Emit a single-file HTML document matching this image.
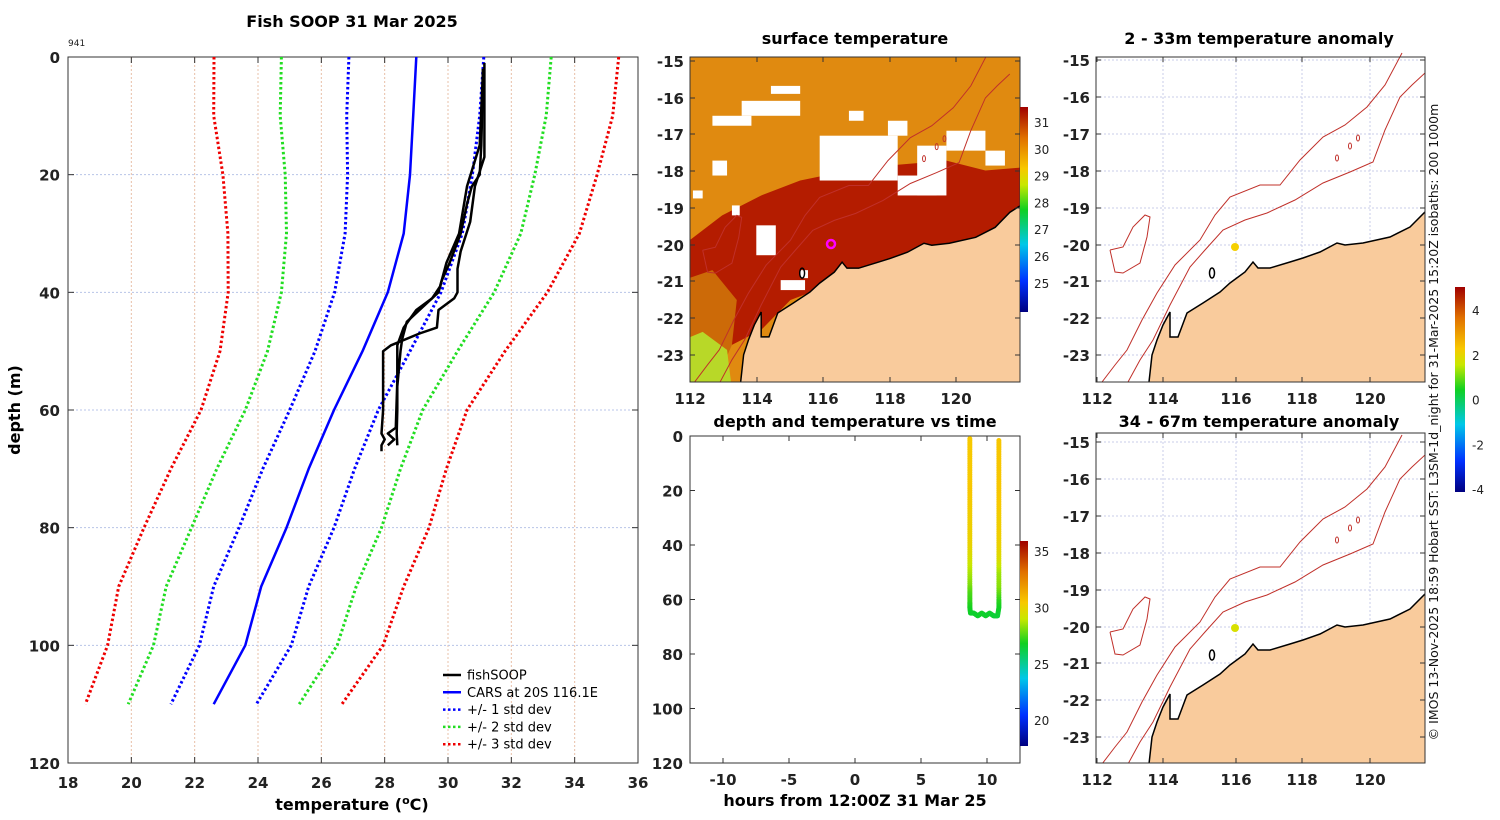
<!DOCTYPE html>
<html><head><meta charset="utf-8"><style>
body{margin:0;background:#fff}
svg{display:block;font-family:"DejaVu Sans","Liberation Sans",sans-serif}
.t{font-size:15px;font-weight:bold;fill:#222}
.ti{font-size:16px;font-weight:bold;fill:#000}
.lg{font-size:13px;fill:#000}
</style></head><body>
<svg id="fig" width="1500" height="820" viewBox="0 0 1500 820" xmlns="http://www.w3.org/2000/svg">
<defs>
<linearGradient id="jet" x1="0" y1="1" x2="0" y2="0">
<stop offset="0" stop-color="#00007f"/><stop offset="0.15" stop-color="#0030ff"/><stop offset="0.33" stop-color="#00c8e8"/><stop offset="0.5" stop-color="#10d020"/><stop offset="0.62" stop-color="#c8e800"/><stop offset="0.7" stop-color="#f8c800"/><stop offset="0.85" stop-color="#e07000"/><stop offset="1" stop-color="#a00000"/>
</linearGradient>
<clipPath id="c1"><rect x="690" y="57" width="330" height="325"/></clipPath>
<clipPath id="c3"><rect x="1096" y="52" width="329" height="330"/></clipPath>
<clipPath id="c4"><rect x="1096" y="433" width="329" height="330"/></clipPath>
</defs>
<g id="main"></g>
<g id="sst"></g>
<g id="tp"></g>
<g id="anom"></g>
</svg>
<script>
const NS="http://www.w3.org/2000/svg";
const svg=document.getElementById('fig');
function mk(tag,attrs,parent,txt){const e=document.createElementNS(NS,tag);for(const k in attrs)e.setAttribute(k,attrs[k]);if(txt!==undefined)e.textContent=txt;(parent||svg).appendChild(e);return e;}

// ===== Profile chart data =====
const carsDepth=[0,10,20,30,40,50,60,70,80,90,100,110];
const carsMean=[29.0,28.9,28.8,28.6,28.1,27.3,26.4,25.6,24.9,24.1,23.6,22.6];
const carsStd=[2.13,2.1,1.97,1.85,1.68,1.5,1.4,1.45,1.5,1.5,1.45,1.35];
const castADepth=[1,10,17,22,28,33,36,40,41,43,46,47,49,50,55,60,64,65,66,67];
const castATemp=[31.15,31.15,31.15,30.85,30.7,30.4,30.3,30.3,30.2,29.7,29.65,29.1,28.2,27.95,27.95,27.95,27.9,28.0,27.9,27.9];
const castBDepth=[2,5,15,20,22,25,30,35,38,40,43,45,48,50,56,60,64,66];
const castBTemp=[31.1,31.1,31.05,31.0,30.75,30.6,30.4,30.05,29.8,29.7,29.1,28.7,28.55,28.5,28.4,28.4,28.38,28.4];
const castCDepth=[3,15,22,30,35,39,41,43,46,49,55,63,64,65,66];
const castCTemp=[31.1,31.0,30.6,30.35,29.95,29.75,29.5,29.0,28.6,28.4,28.4,28.35,28.1,28.3,28.1];
const xTicks=[18,20,22,24,26,28,30,32,34,36];
const yTicks=[0,20,40,60,80,100,120];

const PX0=68,PX1=638,PY0=57,PY1=763;
const sx=t=>PX0+(t-18)/(36-18)*(PX1-PX0);
const sy=d=>PY0+d/120*(PY1-PY0);
const main=document.getElementById('main');
let e;
e=mk('rect',{x:PX0,y:PY0,width:PX1-PX0,height:PY1-PY0,fill:'#fff',stroke:'#333','stroke-width':1},main);

xTicks.forEach(t=>{
  if(t>18&&t<36){e=mk('line',{x1:sx(t),x2:sx(t),y1:PY0,y2:PY1,stroke:'#e8c0a8','stroke-width':1,'stroke-dasharray':'2 2'},main);
  }
  mk('line',{x1:sx(t),x2:sx(t),y1:PY1,y2:PY1-6,stroke:'#333'},main);
  mk('line',{x1:sx(t),x2:sx(t),y1:PY0,y2:PY0+6,stroke:'#333'},main);
  e=mk('text',{x:sx(t),y:788,'text-anchor':'middle',class:'t'},main,t);
  
});
yTicks.forEach(d=>{
  if(d>0&&d<120){e=mk('line',{x1:PX0,x2:PX1,y1:sy(d),y2:sy(d),stroke:'#b8c4e8','stroke-width':1,'stroke-dasharray':'2 2'},main);
  }
  mk('line',{x1:PX0,x2:PX0+6,y1:sy(d),y2:sy(d),stroke:'#333'},main);
  mk('line',{x1:PX1,x2:PX1-6,y1:sy(d),y2:sy(d),stroke:'#333'},main);
  e=mk('text',{x:60,y:sy(d)+6,'text-anchor':'end',class:'t'},main,d);
  
});
function pline(ts,ds,color,w,dash,name){
  const p=ts.map((t,i)=>(i?'L':'M')+sx(t).toFixed(1)+' '+sy(ds[i]).toFixed(1)).join(' ');
  const a={d:p,fill:'none',stroke:color,'stroke-width':w,'stroke-linejoin':'round'};
  if(dash)a['stroke-dasharray']=dash;
  const el=mk('path',a,main);
  
  
}
const kCol={1:'#0000ff',2:'#22dd22',3:'#ee0000'};
[3,2,1].forEach(k=>{
  pline(carsMean.map((m,i)=>m-k*carsStd[i]),carsDepth,kCol[k],3,'2.5 2.5','minus-'+k+'-std-line');
  pline(carsMean.map((m,i)=>m+k*carsStd[i]),carsDepth,kCol[k],3,'2.5 2.5','plus-'+k+'-std-line');
});
pline(carsMean,carsDepth,'#0000ff',2.5,null,'cars-mean-line');
pline(castATemp,castADepth,'#000',2.5,null,'fishsoop-cast-a');
pline(castBTemp,castBDepth,'#000',2.5,null,'fishsoop-cast-b');
pline(castCTemp,castCDepth,'#000',2.5,null,'fishsoop-cast-c');
// legend
const leg=[['fishSOOP','#000',null],['CARS at 20S 116.1E','#0000ff',null],['+/- 1 std dev','#0000ff','2.5 2.5'],['+/- 2 std dev','#22dd22','2.5 2.5'],['+/- 3 std dev','#ee0000','2.5 2.5']];
leg.forEach((l,i)=>{
  const y=675+i*17.3;
  const a={x1:443,x2:461,y1:y,y2:y,stroke:l[1],'stroke-width':2.5};if(l[2])a['stroke-dasharray']=l[2];
  e=mk('line',a,main);
  e=mk('text',{x:467,y:y+4.5,class:'lg'},main,l[0]);
});
e=mk('text',{x:352,y:27,'text-anchor':'middle',class:'ti'},main,'Fish SOOP 31 Mar 2025');
e=mk('text',{x:68,y:46,'font-size':'9',fill:'#222'},main,'941');
e=mk('text',{x:352,y:810,'text-anchor':'middle',class:'ti'},main,'');
e.innerHTML='temperature (<tspan font-size="11" dy="-6">o</tspan><tspan dy="6">C)</tspan>';
e=mk('text',{x:20,y:410,'text-anchor':'middle',class:'ti',transform:'rotate(-90 20 410)'},main,'depth (m)');

// ===== Map geometry (pixel coords of top anomaly map) =====
const coast=[[1149,382],[1152,355],[1157,340],[1163,325],[1170,312],[1170,337],[1178,337],[1187,313],[1203,303],[1220,292],[1230,283],[1245,272],[1253,262],[1258,268],[1270,268],[1290,262],[1303,258],[1320,252],[1337,243],[1345,245],[1363,243],[1390,237],[1410,227],[1425,212],[1460,190],[1460,420],[1149,420]];
const iso200=[[1128,382],[1140,360],[1153,340],[1170,305],[1190,267],[1205,250],[1223,230],[1245,220],[1267,213],[1295,200],[1323,183],[1350,172],[1373,162],[1385,130],[1400,97],[1412,85],[1425,73]];
const iso1000=[[1102,382],[1115,365],[1127,350],[1142,320],[1157,293],[1175,265],[1200,240],[1215,215],[1230,197],[1260,185],[1280,185],[1300,160],[1323,137],[1345,125],[1367,107],[1385,85],[1402,53]];
const island=[[1110,250],[1115,272],[1123,273],[1140,263],[1147,237],[1150,217],[1145,215],[1133,227],[1123,247],[1110,250]];
const pts=a=>a.map(p=>p.join(',')).join(' ');

function drawMapBase(g,ocean){
  if(ocean)ocean(g);
  e=mk('polygon',{points:pts(coast),fill:'#f9cb9c',stroke:'#000','stroke-width':1.5},g);
  e=mk('polyline',{points:pts(iso200),fill:'none',stroke:'#c0302a','stroke-width':1},g);
  e=mk('polyline',{points:pts(iso1000),fill:'none',stroke:'#c0302a','stroke-width':1},g);
  e=mk('polyline',{points:pts(island),fill:'none',stroke:'#c0302a','stroke-width':1},g);
  [[1337,158],[1350,146],[1358,138]].forEach(p=>{e=mk('ellipse',{cx:p[0],cy:p[1],rx:1.5,ry:3,fill:'none',stroke:'#c0302a'},g);});
  e=mk('ellipse',{cx:1212,cy:273,rx:2.5,ry:5,fill:'none',stroke:'#000','stroke-width':1.5},g);
}
function axesFrame(x0,y0,w,h,xlab,ylab,xt,yt,name){
  e=mk('rect',{x:x0,y:y0,width:w,height:h,fill:'none',stroke:'#333'});
  xt.forEach((x,i)=>{mk('line',{x1:x,x2:x,y1:y0+h,y2:y0+h-5,stroke:'#333'});mk('line',{x1:x,x2:x,y1:y0,y2:y0+5,stroke:'#333'});
    e=mk('text',{x:x,y:y0+h+22,'text-anchor':'middle',class:'t'},svg,xlab[i]);});
  yt.forEach((y,i)=>{mk('line',{x1:x0,x2:x0+5,y1:y,y2:y,stroke:'#333'});mk('line',{x1:x0+w,x2:x0+w-5,y1:y,y2:y,stroke:'#333'});
    e=mk('text',{x:x0-6,y:y+6,'text-anchor':'end',class:'t'},svg,ylab[i]);});
}
const lonLab=[112,114,116,118,120];
const latLab=[-15,-16,-17,-18,-19,-20,-21,-22,-23];

// SST map
const sst=document.getElementById('sst');
const gS=mk('g',{'clip-path':'url(#c1)'},sst);
const gSi=mk('g',{transform:'translate(690,61) scale(0.975,0.996) translate(-1097,-60)'},gS);
drawMapBase(gSi,g=>{
  mk('rect',{x:1000,y:0,width:500,height:450,fill:'#e08a10'},g);
  mk('polygon',{points:'1090,245 1130,215 1170,195 1210,180 1250,172 1300,165 1360,160 1400,170 1460,165 1460,230 1380,245 1330,255 1280,265 1240,285 1200,300 1170,330 1140,345 1100,330',fill:'#b41c00'},g);
  mk('polygon',{points:'1090,280 1120,270 1145,300 1140,345 1120,390 1090,390',fill:'#cc6a08'},g);
  mk('polygon',{points:'1090,340 1110,332 1135,350 1140,390 1090,390',fill:'#b8d828'},g);
  [[1230,135,80,45],[1330,145,30,50],[1360,130,40,20],[1310,175,40,20],[1150,100,60,15],[1120,115,40,10],[1300,120,20,15],[1165,225,20,30],[1190,280,25,10],[1120,160,15,15],[1180,85,30,8],[1260,110,15,10],[1400,150,20,15],[1100,190,10,8],[1210,270,8,8],[1140,205,8,10]].forEach(r=>{e=mk('rect',{x:r[0],y:r[1],width:r[2],height:r[3],fill:'#fff'},g);});
});
e=mk('circle',{cx:831,cy:244,r:4,fill:'none',stroke:'#ff00ff','stroke-width':2.5},sst);
axesFrame(690,57,330,325,lonLab,latLab,[690,757,823,890,956],[61,98,134,171,208,245,281,318,355],'sst-map');
e=mk('text',{x:855,y:44,'text-anchor':'middle',class:'ti'},svg,'surface temperature');
e=mk('rect',{x:1020,y:107,width:8,height:205,fill:'url(#jet)'});
[31,30,29,28,27,26,25].forEach((v,i)=>{e=mk('text',{x:1034,y:127+i*26.8,'font-size':'12',fill:'#222'},svg,v);});

// Anomaly maps
const anom=document.getElementById('anom');
const gA=mk('g',{'clip-path':'url(#c3)'},anom);
mk('rect',{x:1096,y:52,width:329,height:330,fill:'#fff'},gA);
[1163,1236,1302,1370].forEach(x=>mk('line',{x1:x,x2:x,y1:57,y2:382,stroke:'#c8cce8','stroke-dasharray':'2 2'},gA));
[60,97,134,171,208,245,281,318,355].forEach(y=>mk('line',{x1:1096,x2:1425,y1:y,y2:y,stroke:'#c8cce8','stroke-dasharray':'2 2'},gA));
drawMapBase(gA,null);
e=mk('circle',{cx:1235,cy:247,r:4,fill:'#f5d000'},anom);
axesFrame(1096,57,329,325,lonLab,latLab,[1097,1163,1236,1302,1370],[60,97,134,171,208,245,281,318,355],'anomaly-map-shallow');
e=mk('text',{x:1259,y:44,'text-anchor':'middle',class:'ti'},svg,'2 - 33m temperature anomaly');

const gB=mk('g',{'clip-path':'url(#c4)'},anom);
const gBi=mk('g',{transform:'translate(0,382)'},gB);
[1163,1236,1302,1370].forEach(x=>mk('line',{x1:x,x2:x,y1:0,y2:400,stroke:'#c8cce8','stroke-dasharray':'2 2'},gBi));
[60,97,134,171,208,245,281,318,355].forEach(y=>mk('line',{x1:1096,x2:1425,y1:y,y2:y,stroke:'#c8cce8','stroke-dasharray':'2 2'},gBi));
drawMapBase(gBi,null);
e=mk('circle',{cx:1235,cy:628,r:4,fill:'#d8e000'},anom);
axesFrame(1096,433,329,330,lonLab,latLab,[1097,1163,1236,1302,1370],[442,479,516,553,590,627,663,700,737],'anomaly-map-deep');
e=mk('text',{x:1259,y:427,'text-anchor':'middle',class:'ti'},svg,'34 - 67m temperature anomaly');
e=mk('rect',{x:1455,y:287,width:10,height:205,fill:'url(#jet)'});
[4,2,0,-2,-4].forEach((v,i)=>{e=mk('text',{x:1472,y:315+i*44.8,'font-size':'12',fill:'#222'},svg,v);});
e=mk('text',{x:1438,y:422,'text-anchor':'middle','font-size':'12.5',fill:'#111',transform:'rotate(-90 1438 422)'},svg,'\u00a9 IMOS 13-Nov-2025 18:59 Hobart SST: L3SM-1d_night for 31-Mar-2025 15:20Z isobaths: 200  1000m');


// ===== Depth/temperature vs time =====
const tpHours=[8.7,8.7,8.7,8.7,8.7,8.7,8.7,8.7,8.7,8.7,8.7,8.7,8.7,8.7,8.7,8.75,9.0,9.3,9.6,9.9,10.2,10.5,10.8,10.9,10.9,10.9,10.9,10.9,10.9,10.9,10.9,10.9,10.9,10.9,10.9,10.9,10.9];
const tpDepth=[1,5,10,15,20,25,30,35,40,45,50,55,58,61,63,65,65,66,65,66,65,66,66,63,60,55,50,45,40,35,30,25,20,15,10,5,1];
const tpTemp=[30.5,30.5,30.5,30.5,30.6,30.4,30.3,30.2,30.1,29.5,28.8,28.2,27.6,27.3,27.0,26.8,26.7,26.7,26.8,26.7,26.7,26.6,26.5,26.8,27.2,28.3,28.6,29.6,30.1,30.3,30.3,30.5,30.6,30.6,30.6,30.6,30.6];
const tpXTicks=[-10,-5,0,5,10];
const tpYTicks=[0,20,40,60,80,100,120];
const TX0=690,TX1=1020,TY0=436,TY1=763;
const tx=h=>TX0+(h+12.5)/25*(TX1-TX0);
const ty=d=>TY0+d/120*(TY1-TY0);
const tp=document.getElementById('tp');
e=mk('rect',{x:TX0,y:TY0,width:TX1-TX0,height:TY1-TY0,fill:'#fff',stroke:'#333'},tp);
tpXTicks.forEach(h=>{mk('line',{x1:tx(h),x2:tx(h),y1:TY1,y2:TY1-5,stroke:'#333'},tp);mk('line',{x1:tx(h),x2:tx(h),y1:TY0,y2:TY0+5,stroke:'#333'},tp);
  e=mk('text',{x:tx(h),y:785,'text-anchor':'middle',class:'t'},tp,h);});
tpYTicks.forEach(d=>{mk('line',{x1:TX0,x2:TX0+5,y1:ty(d),y2:ty(d),stroke:'#333'},tp);mk('line',{x1:TX1,x2:TX1-5,y1:ty(d),y2:ty(d),stroke:'#333'},tp);
  e=mk('text',{x:683,y:ty(d)+6,'text-anchor':'end',class:'t'},tp,d);});
function cmap(v){const f=Math.max(0,Math.min(1,(v-17.8)/(36-17.8)));
  const st=[[0,[0,0,127]],[0.15,[0,48,255]],[0.33,[0,200,232]],[0.5,[16,208,32]],[0.62,[200,232,0]],[0.7,[248,200,0]],[0.85,[224,112,0]],[1,[160,0,0]]];
  for(let i=1;i<st.length;i++){if(f<=st[i][0]){const a=st[i-1],b=st[i],u=(f-a[0])/(b[0]-a[0]);return 'rgb('+a[1].map((c,j)=>Math.round(c+(b[1][j]-c)*u)).join(',')+')';}}return 'rgb(160,0,0)';}
for(let i=0;i<tpHours.length-1;i++){
  const n=6;for(let k=0;k<n;k++){const u=k/n;const h=tpHours[i]+(tpHours[i+1]-tpHours[i])*u,d=tpDepth[i]+(tpDepth[i+1]-tpDepth[i])*u,t=tpTemp[i]+(tpTemp[i+1]-tpTemp[i])*u;
    e=mk('circle',{cx:tx(h),cy:ty(d),r:2.5,fill:cmap(t)},tp);
    
    }
}
e=mk('text',{x:855,y:806,'text-anchor':'middle',class:'ti'},tp,'hours from 12:00Z 31 Mar 25');
e=mk('text',{x:855,y:427,'text-anchor':'middle',class:'ti'},tp,'depth and temperature vs time');
e=mk('rect',{x:1020,y:541,width:8,height:205,fill:'url(#jet)'},tp);
[35,30,25,20].forEach((v,i)=>{e=mk('text',{x:1034,y:556+i*56.4,'font-size':'12',fill:'#222'},tp,v);});
</script>
</body></html>
